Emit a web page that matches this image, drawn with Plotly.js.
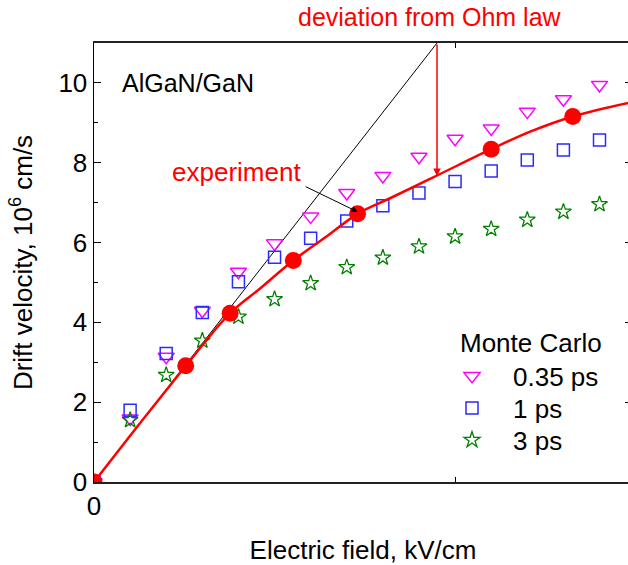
<!DOCTYPE html>
<html>
<head>
<meta charset="utf-8">
<script src="https://cdn.plot.ly/plotly-3.0.1.min.js"></script>
<style>
html,body{margin:0;padding:0;overflow:hidden;background:#fff;}
#chart{width:640px;height:565px;}
</style>
</head>
<body>
<div id="chart"></div>
<script>
// Monte Carlo simulations (field in kV/cm, velocity in 1e6 cm/s)
const mcField = [0,1,2,3,4,5,6,7,8,9,10,11,12,13,14];
const vel035 = [0,1.59,3.14,4.29,5.27,5.98,6.65,7.24,7.67,8.15,8.60,8.86,9.28,9.59,9.95];
const vel1 = [0,1.80,3.22,4.25,5.02,5.63,6.11,6.54,6.92,7.24,7.53,7.79,8.07,8.32,8.57];
const vel3 = [0,1.55,2.68,3.54,4.14,4.58,4.98,5.38,5.62,5.90,6.15,6.34,6.57,6.77,6.96];
const mcNames = ['0.35 ps','1 ps','3 ps'];

// Experiment
const expField = [0,2.54,3.77,5.52,7.30,11.0,13.26];
const expVel = [0,2.91,4.23,5.55,6.72,8.34,9.16];

// Fit curve through experiment
const fitField = [0,1.0,2.0,2.54,3.77,4.6,5.52,6.44,7.30,8.2,9.5,11.0,12.08,13.26,14.9];
const fitVel = [0,1.16,2.30,2.91,4.23,4.85,5.55,6.15,6.72,7.11,7.68,8.34,8.78,9.16,9.52];

// Ohm law line
const ohmField = [0,9.5];
const ohmVel = [0,11];

// x ticks
const xTickVals = [0,10];
const xTickText = ['0',''];

const FONT = 'Liberation Sans, Arial, sans-serif';
const FS = 26;

const traces = [
  {x: ohmField, y: ohmVel, mode:'lines', line:{color:'#000', width:1}, showlegend:false, hoverinfo:'skip'},
  {x: mcField, y: vel035, mode:'markers', name: mcNames[0], cliponaxis:true, legend:'legend',
   marker:{symbol:'triangle-down-open', size:14, color:'#ff00ff', line:{width:1.5, color:'#ff00ff'}}},
  {x: mcField, y: vel1, mode:'markers', name: mcNames[1], cliponaxis:true, legend:'legend2',
   marker:{symbol:'square-open', size:12, color:'#2b2bff', line:{width:1.5, color:'#2b2bff'}}},
  {x: mcField, y: vel3, mode:'markers', name: mcNames[2], cliponaxis:true, legend:'legend3',
   marker:{symbol:'star-open', size:12, color:'#008000', line:{width:1.3, color:'#008000'}}},
  {x: fitField, y: fitVel, mode:'lines', line:{color:'#ff0000', width:2.5, shape:'spline', smoothing:1}, showlegend:false, hoverinfo:'skip'},
  {x: expField, y: expVel, mode:'markers', cliponaxis:true, showlegend:false,
   marker:{symbol:'circle', size:17, color:'#ff0000'}}
];

function leg(y){
  return {x: 0.6264, xanchor:'left', y: y, yanchor:'middle', bgcolor:'rgba(0,0,0,0)',
          font:{family:FONT, size:FS}, itemwidth:72, borderwidth:0};
}

const layout = {
  width: 640, height: 565,
  margin: {l:94, r:8, t:43, b:83},
  paper_bgcolor:'#fff', plot_bgcolor:'#fff',
  font: {family: FONT, size: FS, color:'#000'},
  showlegend: true,
  legend: leg(0.2415),
  legend2: leg(0.1686),
  legend3: leg(0.0957),
  xaxis: {range:[0,14.9], showgrid:false, zeroline:false, showline:true, linecolor:'#222', linewidth:2,
          mirror:'ticks', ticks:'inside', ticklen:5, tickwidth:1, tickcolor:'#000',
          tickmode:'array', tickvals:xTickVals, ticktext:xTickText,
          tickfont:{family:FONT, size:FS},
          title:{text:'Electric field, kV/cm', font:{family:FONT, size:FS}, standoff:30}},
  yaxis: {range:[0,11], showgrid:false, zeroline:false, showline:true, linecolor:'#000', linewidth:1.5,
          mirror:'ticks', ticks:'inside', ticklen:7, tickwidth:1, tickcolor:'#000',
          tickmode:'linear', tick0:0, dtick:2,
          minor:{ticks:'inside', ticklen:4, dtick:1, tickcolor:'#000', showgrid:false},
          tickfont:{family:FONT, size:FS},
          title:{text:'Drift velocity, 10<sup>6</sup> cm/s', font:{family:FONT, size:FS}, standoff:18}},
  annotations: [
    {x:0.72, y:10.0, xref:'x', yref:'y', text:'AlGaN/GaN', showarrow:false, xanchor:'left', yanchor:'middle',
     font:{family:FONT, size:FS-1, color:'#000'}},
    {x:3.96, y:7.78, xref:'x', yref:'y', text:'experiment', showarrow:false, xanchor:'center', yanchor:'middle',
     font:{family:FONT, size:FS, color:'#ff0000'}},
    {x:7.30, y:6.77, ax:5.82, ay:7.42, xref:'x', yref:'y', axref:'x', ayref:'y', text:'', showarrow:true,
     arrowhead:2, arrowsize:1.2, arrowwidth:1, arrowcolor:'#000', standoff:0},
    {x:9.31, y:1.059, xref:'x', yref:'paper', text:'deviation from Ohm law', showarrow:false, xanchor:'center', yanchor:'middle',
     font:{family:FONT, size:FS-1, color:'#ff0000'}},
    {x:9.5, y:7.67, ax:9.5, ay:11, xref:'x', yref:'y', axref:'x', ayref:'y', text:'', showarrow:true,
     arrowhead:2, arrowsize:1, arrowwidth:1.5, arrowcolor:'#ff0000', standoff:0},
    {x:0.677, y:0.317, xref:'paper', yref:'paper', text:'Monte Carlo', showarrow:false, xanchor:'left', yanchor:'middle',
     font:{family:FONT, size:FS, color:'#000'}}
  ]
};

Plotly.newPlot('chart', traces, layout, {displayModeBar:false, staticPlot:true});
</script>
</body>
</html>
